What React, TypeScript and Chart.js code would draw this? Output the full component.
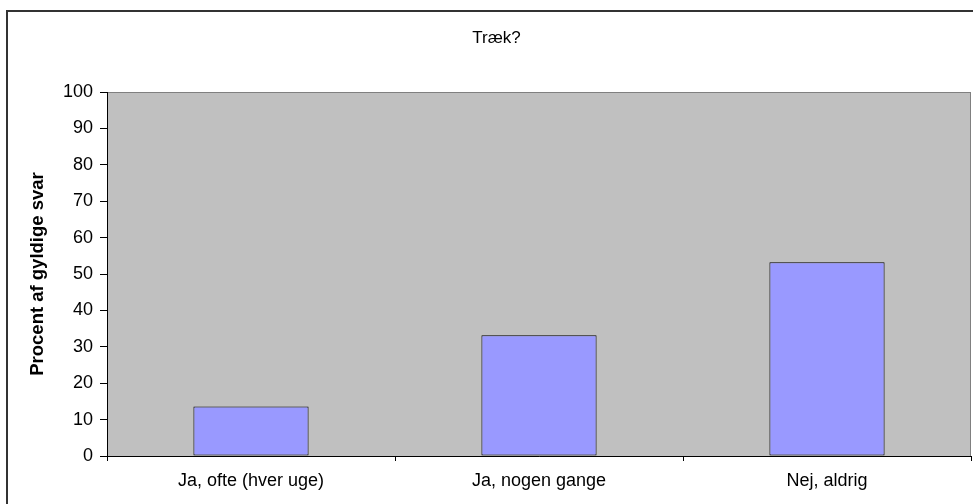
import React, { useEffect, useRef } from "react";
import { Chart, registerables } from "chart.js";

Chart.register(...registerables);

const categories = ["Ja, ofte (hver uge)", "Ja, nogen gange", "Nej, aldrig"];
const values = [13.6, 33.2, 53.2];
const chartTitle = "Træk?";
const yAxisTitle = "Procent af gyldige svar";
const yMin = 0;
const yMax = 100;
const yStep = 10;

const FONT = "'Liberation Sans', Arial, sans-serif";

const frameAndBg = {
  id: "frameAndBg",
  beforeDraw(chart: any) {
    const { ctx, chartArea } = chart;
    ctx.save();
    ctx.fillStyle = "#ffffff";
    ctx.fillRect(0, 0, chart.width, chart.height);
    ctx.strokeStyle = "#333333";
    ctx.lineWidth = 2;
    ctx.strokeRect(7, 11, 1200, 800);
    ctx.fillStyle = "#c0c0c0";
    ctx.fillRect(chartArea.left, chartArea.top, chartArea.right - chartArea.left, chartArea.bottom - chartArea.top);
    ctx.strokeStyle = "#808080";
    ctx.lineWidth = 1;
    ctx.strokeRect(chartArea.left + 0.5, chartArea.top + 0.5, chartArea.right - chartArea.left - 1, chartArea.bottom - chartArea.top);
    ctx.restore();
  },
};

export default function App() {
  const ref = useRef<HTMLCanvasElement | null>(null);
  useEffect(() => {
    if (!ref.current) return;
    const chart = new Chart(ref.current, {
      type: "bar",
      data: {
        labels: categories,
        datasets: [
          {
            data: values,
            backgroundColor: "#9999ff",
            borderColor: "#000000",
            borderWidth: 1,
            borderSkipped: false,
            barPercentage: 0.4,
            categoryPercentage: 1,
          },
        ],
      },
      options: {
        responsive: false,
        animation: false,
        layout: { padding: { left: 22, right: 2, top: 0, bottom: 0 } },
        plugins: {
          legend: { display: false },
          tooltip: { enabled: false },
          title: {
            display: true,
            text: chartTitle,
            color: "#000000",
            font: { family: FONT, size: 17, weight: "normal" },
            padding: { top: 28, bottom: 43.6 },
          },
        },
        scales: {
          x: {
            grid: {
              offset: true,
              drawOnChartArea: false,
              drawTicks: true,
              tickLength: 5,
              color: "#000000",
            },
            border: { display: true, color: "#000000", width: 1 },
            ticks: {
              color: "#000000",
              padding: 9,
              maxRotation: 0,
              font: { family: FONT, size: 18 },
            },
            afterFit(scale: any) {
              scale.height = 48;
            },
          },
          y: {
            min: yMin,
            max: yMax,
            grid: {
              drawOnChartArea: false,
              drawTicks: true,
              tickLength: 7,
              color: "#000000",
            },
            border: { display: true, color: "#000000", width: 1 },
            ticks: {
              stepSize: yStep,
              color: "#000000",
              padding: 7,
              font: { family: FONT, size: 18 },
            },
            title: {
              display: true,
              text: yAxisTitle,
              color: "#000000",
              font: { family: FONT, size: 18.5, weight: "bold" },
              padding: { top: 4.4, bottom: 0 },
            },
            afterFit(scale: any) {
              scale.width = 85;
            },
          },
        },
      },
      plugins: [frameAndBg],
    });
    return () => chart.destroy();
  }, []);
  return (
    <div style={{ position: "absolute", left: 0, top: 0, width: 973, height: 504 }}>
      <canvas ref={ref} width={973} height={504} />
    </div>
  );
}
